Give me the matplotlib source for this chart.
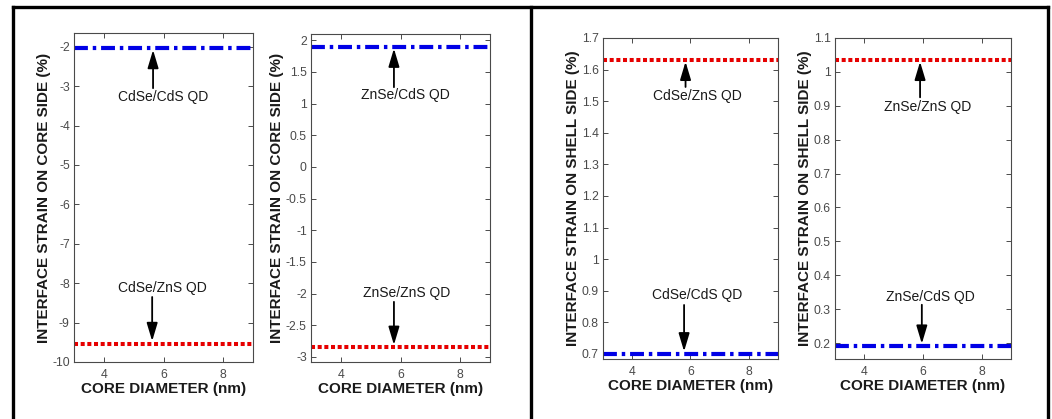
import numpy as np
import matplotlib.pyplot as plt
from matplotlib.lines import Line2D

plt.rcParams['font.family'] = ['Liberation Sans', 'DejaVu Sans']
plt.rcParams['axes.unicode_minus'] = False
plt.rcParams['lines.scale_dashes'] = False

# core diameter (nm)
core_diameter = [3, 4, 5, 6, 7, 8, 9]

# interface strain on core side (%)
cdse_cds_core = [-2.03, -2.03, -2.03, -2.03, -2.03, -2.03, -2.03]
cdse_zns_core = [-9.54, -9.54, -9.54, -9.54, -9.54, -9.54, -9.54]
znse_cds_core = [1.9, 1.9, 1.9, 1.9, 1.9, 1.9, 1.9]
znse_zns_core = [-2.85, -2.85, -2.85, -2.85, -2.85, -2.85, -2.85]

# interface strain on shell side (%)
cdse_zns_shell = [1.63, 1.63, 1.63, 1.63, 1.63, 1.63, 1.63]
cdse_cds_shell = [0.70, 0.70, 0.70, 0.70, 0.70, 0.70, 0.70]
znse_zns_shell = [1.035, 1.035, 1.035, 1.035, 1.035, 1.035, 1.035]
znse_cds_shell = [0.19, 0.19, 0.19, 0.19, 0.19, 0.19, 0.19]

xticks = [4, 6, 8]

W, H = 1052, 419
fig = plt.figure(figsize=(W / 100, H / 100), dpi=100)


def add_axes(l, r, t, b):
    return fig.add_axes([l / W, 1 - b / H, (r - l) / W, (b - t) / H])


blue_dash = (0, (10, 3.5, 2.5, 3.5))
red_dot = (0, (2.9, 1.9))


def style(ax, ylim, yticks, ylabel):
    ax.set_xlim(3, 9)
    ax.set_ylim(*ylim)
    ax.set_xticks(xticks)
    ax.set_yticks(yticks)
    ax.set_yticklabels(['%g' % v for v in yticks])
    ax.tick_params(direction='in', top=True, right=True, length=3.5,
                   width=0.7, labelsize=8.8, labelcolor='#4a4a4a',
                   color='#4a4a4a')
    ax.tick_params(axis='x', pad=5)
    ax.tick_params(axis='y', pad=3)
    for s in ax.spines.values():
        s.set_color('#4a4a4a')
        s.set_linewidth(0.8)
    ax.set_xlabel('CORE DIAMETER (nm)', fontsize=11, fontweight='bold',
                  color='#1a1a1a', labelpad=1)
    ax.set_ylabel(ylabel, fontsize=11, fontweight='bold', color='#1a1a1a',
                  labelpad=1)


def label(ax, text, tx, ty, ax_x, tail, head):
    ax.text(tx, ty, text, ha='center', va='center', fontsize=10,
            color='#1a1a1a')
    ax.annotate('', xy=(ax_x, head), xytext=(ax_x, tail),
                arrowprops=dict(arrowstyle='-|>,head_length=1.1,head_width=0.33',
                                color='black', lw=1.3, shrinkA=0, shrinkB=0,
                                mutation_scale=10))


core_lbl = 'INTERFACE STRAIN ON CORE SIDE (%)'
shell_lbl = 'INTERFACE STRAIN ON SHELL SIDE (%)'

# CdSe core, core side
ax1 = add_axes(74, 253, 33, 362)
ax1.plot(core_diameter, cdse_cds_core, color='#0000e6', lw=3, linestyle=blue_dash)
ax1.plot(core_diameter, cdse_zns_core, color='#e60000', lw=2.9, linestyle=red_dot,
         dash_capstyle='butt')
style(ax1, (-10, -1.65), [-10, -9, -8, -7, -6, -5, -4, -3, -2], core_lbl)
label(ax1, 'CdSe/CdS QD', 6.0, -3.27, 5.65, -3.05, -2.08)
label(ax1, 'CdSe/ZnS QD', 5.95, -8.12, 5.62, -8.35, -9.47)

# ZnSe core, core side
ax2 = add_axes(311, 490, 34, 362)
ax2.plot(core_diameter, znse_cds_core, color='#0000e6', lw=3, linestyle=blue_dash)
ax2.plot(core_diameter, znse_zns_core, color='#e60000', lw=2.9, linestyle=red_dot,
         dash_capstyle='butt')
style(ax2, (-3.08, 2.1), [-3, -2.5, -2, -1.5, -1, -0.5, 0, 0.5, 1, 1.5, 2], core_lbl)
label(ax2, 'ZnSe/CdS QD', 6.15, 1.14, 5.78, 1.26, 1.87)
label(ax2, 'ZnSe/ZnS QD', 6.2, -1.99, 5.78, -2.13, -2.81)

# CdSe core, shell side
ax3 = add_axes(603, 778, 38, 359)
ax3.plot(core_diameter, cdse_zns_shell, color='#e60000', lw=2.9, linestyle=red_dot,
         dash_capstyle='butt')
ax3.plot(core_diameter, cdse_cds_shell, color='#0000e6', lw=3, linestyle=blue_dash)
style(ax3, (0.684, 1.7), [0.7, 0.8, 0.9, 1, 1.1, 1.2, 1.3, 1.4, 1.5, 1.6, 1.7], shell_lbl)
label(ax3, 'CdSe/ZnS QD', 6.24, 1.516, 5.83, 1.545, 1.625)
label(ax3, 'CdSe/CdS QD', 6.24, 0.886, 5.78, 0.855, 0.708)

# ZnSe core, shell side
ax4 = add_axes(835, 1011, 38, 359)
ax4.plot(core_diameter, znse_zns_shell, color='#e60000', lw=2.9, linestyle=red_dot,
         dash_capstyle='butt')
ax4.plot(core_diameter, znse_cds_shell, color='#0000e6', lw=3, linestyle=blue_dash)
style(ax4, (0.153, 1.1), [0.2, 0.3, 0.4, 0.5, 0.6, 0.7, 0.8, 0.9, 1, 1.1], shell_lbl)
label(ax4, 'ZnSe/ZnS QD', 6.16, 0.896, 5.9, 0.925, 1.03)
label(ax4, 'ZnSe/CdS QD', 6.25, 0.336, 5.96, 0.313, 0.198)

# panel frames
frame_kw = dict(color='black', lw=2.4, transform=fig.transFigure,
                solid_capstyle='projecting')
fig.add_artist(Line2D([13 / W, 1048 / W], [1 - 7 / H, 1 - 7 / H], **frame_kw))
for px in [13, 531, 1048]:
    fig.add_artist(Line2D([px / W, px / W], [0, 1 - 7 / H], **frame_kw))

fig.savefig('out.png', dpi=100, facecolor='white')
